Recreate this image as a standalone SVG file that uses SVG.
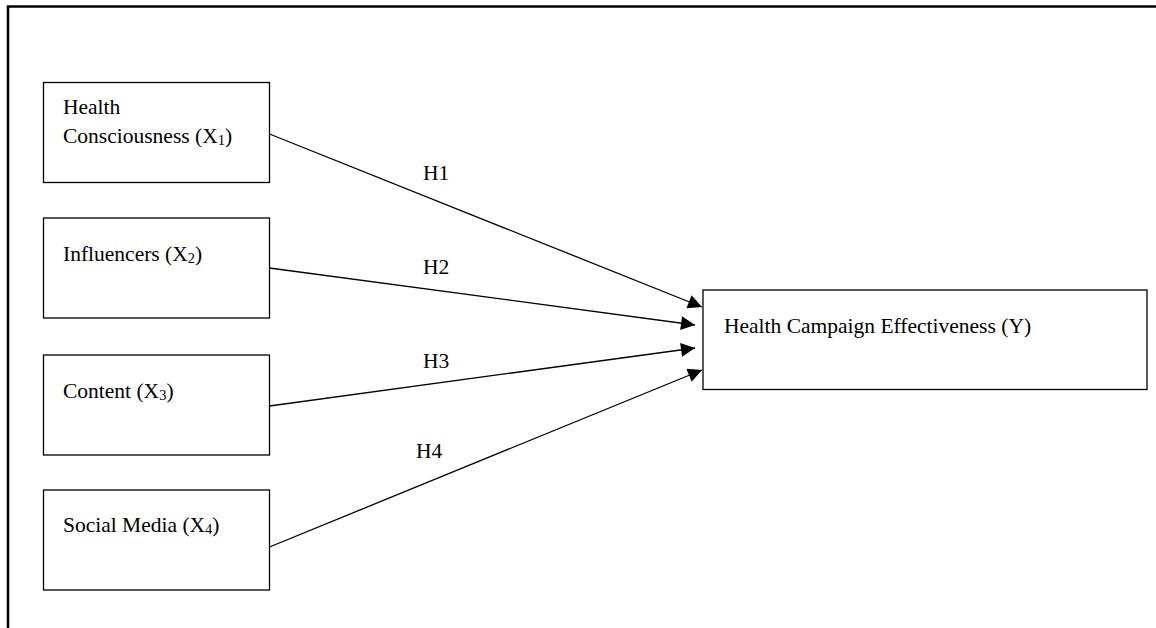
<svg xmlns="http://www.w3.org/2000/svg" width="1156" height="628" viewBox="0 0 1156 628">
<defs>
<style>
.box{fill:#fff;stroke:#000;stroke-width:1.3}
.t{font-family:"Liberation Serif","Times New Roman",serif;font-size:21.5px;fill:#000}
.sub{font-size:14.5px}
.edge{stroke:#000;stroke-width:1.3;fill:none;marker-end:url(#arr)}
</style>
<marker id="arr" viewBox="0 0 10 10" refX="10" refY="5" markerWidth="16" markerHeight="14" markerUnits="userSpaceOnUse" orient="auto">
<path d="M0,0 L10,5 L0,10 z" fill="#000"/>
</marker>
</defs>
<rect width="1156" height="628" fill="#fff"/>
<path d="M8,640 V6.5 H1160" fill="none" stroke="#000" stroke-width="2.5"/>
<g id="n1"><rect class="box" x="43.5" y="82.5" width="226" height="100"/><text class="t" x="63" y="114">Health</text><text class="t" x="63" y="143">Consciousness (X<tspan class="sub" dy="2">1</tspan><tspan dy="-2">)</tspan></text></g>
<g id="n2"><rect class="box" x="43.5" y="218" width="226" height="100"/><text class="t" x="63" y="261">Influencers (X<tspan class="sub" dy="2">2</tspan><tspan dy="-2">)</tspan></text></g>
<g id="n3"><rect class="box" x="43.5" y="355" width="226" height="100"/><text class="t" x="63" y="398">Content (X<tspan class="sub" dy="2">3</tspan><tspan dy="-2">)</tspan></text></g>
<g id="n4"><rect class="box" x="43.5" y="490" width="226" height="100"/><text class="t" x="63" y="532">Social Media (X<tspan class="sub" dy="2">4</tspan><tspan dy="-2">)</tspan></text></g>
<g id="ny"><rect class="box" x="703" y="290" width="444" height="99.5"/><text class="t" x="724" y="333">Health Campaign Effectiveness (Y)</text></g>
<g id="edges">
<line class="edge" x1="269.5" y1="134" x2="702" y2="307"/>
<line class="edge" x1="269.5" y1="268" x2="695" y2="325"/>
<line class="edge" x1="269.5" y1="406" x2="695" y2="348"/>
<line class="edge" x1="269.5" y1="547" x2="702" y2="370"/>
<text class="t" x="423" y="180">H1</text>
<text class="t" x="423" y="274">H2</text>
<text class="t" x="423" y="368">H3</text>
<text class="t" x="416" y="458">H4</text>
</g>
</svg>
